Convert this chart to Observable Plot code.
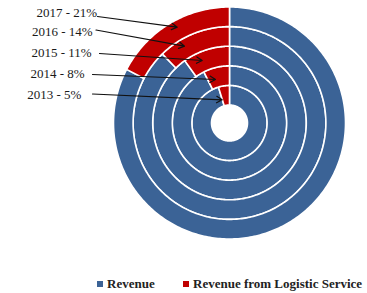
<!DOCTYPE html>
<html><head><meta charset="utf-8">
<script src="https://cdn.jsdelivr.net/npm/d3@7"></script>
<script src="https://cdn.jsdelivr.net/npm/@observablehq/plot@0.6"></script>
<style>
body{margin:0;background:#fff;font-family:"Liberation Serif",serif;width:367px;height:293px;overflow:hidden;}
#legend{position:relative;height:35px;}
.item{position:absolute;top:18px;display:flex;align-items:center;font-weight:bold;font-size:13px;color:#222;white-space:nowrap;}
.sw{display:inline-block;width:6px;height:6px;margin-right:4px;}
</style></head><body><div id="chart"></div><div id="legend"></div>
<script>
// ---- data ----
const years = ["2013", "2014", "2015", "2016", "2017"];
const logisticPct = [5, 8, 11, 14, 21];          // Revenue from Logistic Service (labelled %)
const revenueBase = [100, 100, 100, 100, 100];   // Revenue baseline
const seriesNames = ["Revenue", "Revenue from Logistic Service"];
const seriesColors = ["#3b6396", "#c00000"];
// annotation layout (pixels) for the labels and arrow tips
const labelLeft = [26.7, 30, 31, 31.5, 36];
const labelMidY = [94, 73.5, 52.7, 31.7, 12.7];
const arrowStart = [[92, 93.5], [92, 74], [99, 53], [95.5, 29.5], [97, 16]];
const arrowTip = [[221.7, 99.3], [215, 79], [201.7, 60], [184, 45.7], [176.7, 26.7]];

// ---- layout ----
const W = 367, H = 258, cx = 229, cy = 122.5;
const hole = 18, ringW = 19.6;

// ---- build ring segment polygons ----
const pts = [];
years.forEach((yr, i) => {
  const r0 = hole + i * ringW, r1 = r0 + ringW;
  const total = revenueBase[i] + logisticPct[i];
  const vals = [revenueBase[i], logisticPct[i]];
  let start = 0;
  vals.forEach((v, k) => {
    const a0 = start / total * 360, a1 = (start + v) / total * 360;
    start += v;
    const id = yr + "-" + k;
    const n = Math.max(2, Math.ceil((a1 - a0) / 1));
    const ring = [];
    for (let j = 0; j <= n; j++) ring.push([r1, a0 + (a1 - a0) * j / n]);
    for (let j = n; j >= 0; j--) ring.push([r0, a0 + (a1 - a0) * j / n]);
    ring.push(ring[0]);
    ring.forEach(([r, a]) => {
      const t = a * Math.PI / 180;
      pts.push({id, series: seriesNames[k], x: r * Math.sin(t), y: r * Math.cos(t)});
    });
  });
});

const ann = years.map((yr, i) => ({
  text: `${yr} - ${logisticPct[i]}%`,
  lx: labelLeft[i] - cx, ly: cy - labelMidY[i],
  x1: arrowStart[i][0] - cx, y1: cy - arrowStart[i][1],
  x2: arrowTip[i][0] - cx, y2: cy - arrowTip[i][1]
}));

const chart = Plot.plot({
  width: W, height: H,
  margin: 0,
  x: {domain: [-cx, W - cx], axis: null},
  y: {domain: [cy - H, cy], axis: null},
  color: {domain: seriesNames, range: seriesColors},
  style: {fontFamily: "Liberation Serif, serif", background: "white"},
  marks: [
    Plot.line(pts, {x: "x", y: "y", z: "id", fill: "series", stroke: "white", strokeWidth: 1.6, curve: "linear"}),
    Plot.arrow(ann, {x1: "x1", y1: "y1", x2: "x2", y2: "y2", stroke: "#111", strokeWidth: 1.2, headLength: 8, bend: 0}),
    Plot.text(ann, {x: "lx", y: "ly", text: "text", textAnchor: "start", fontSize: 13, fill: "#1a1a1a"})
  ]
});
document.getElementById("chart").appendChild(chart);

// ---- legend ----
const legend = document.getElementById("legend");
const legendLeft = [97, 183];
seriesNames.forEach((name, k) => {
  const it = document.createElement("div");
  it.className = "item";
  it.style.left = legendLeft[k] + "px";
  const sw = document.createElement("span");
  sw.className = "sw";
  sw.style.background = seriesColors[k];
  it.appendChild(sw);
  it.appendChild(document.createTextNode(name));
  legend.appendChild(it);
});
</script>
</body></html>
